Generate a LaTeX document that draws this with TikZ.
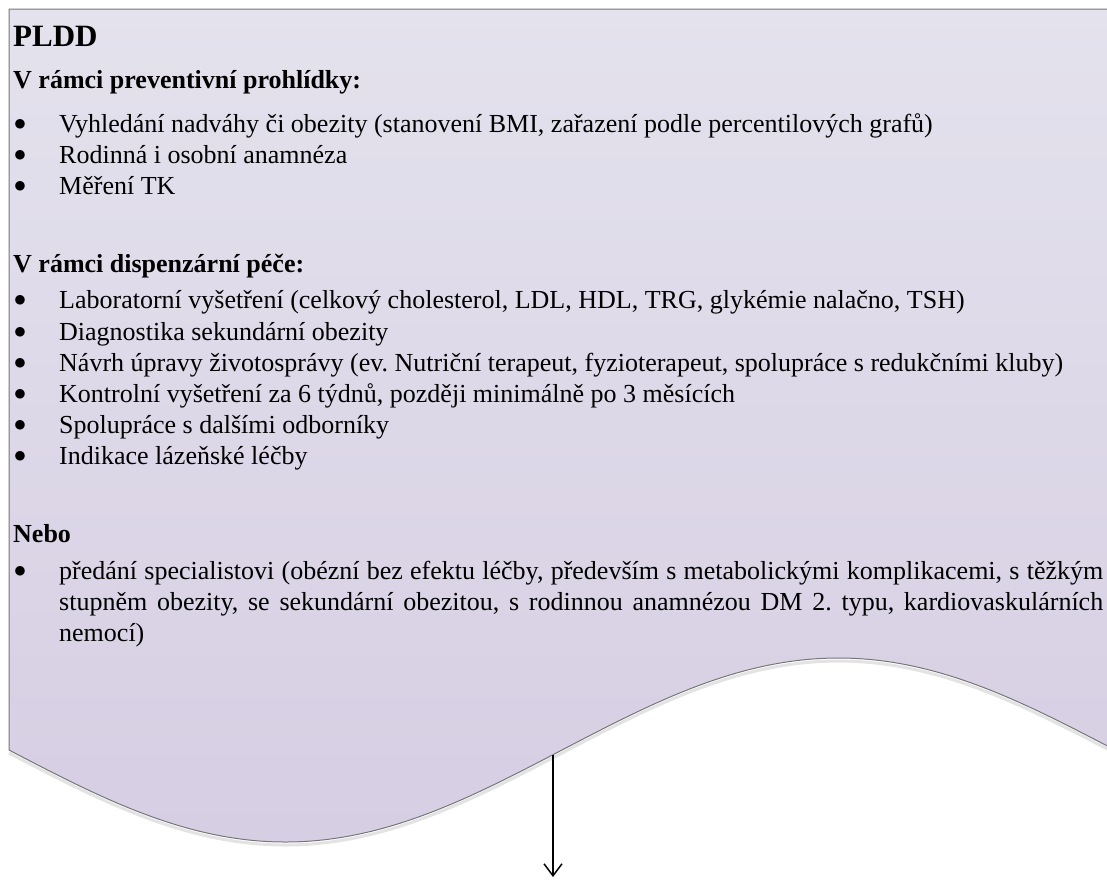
\documentclass[tikz,border=0pt]{standalone}
\usepackage{fontspec}
\setmainfont{Liberation Serif}
\newfontfamily\dotfont{DejaVu Sans}
\usetikzlibrary{arrows.meta}
\definecolor{filltop}{HTML}{E4E2ED}
\definecolor{fillbot}{HTML}{D6CEE3}
\definecolor{edgegray}{HTML}{767676}
\frenchspacing
\begin{document}
\begin{tikzpicture}[x=1pt,y=-1pt,
  body/.style={anchor=base west, inner sep=0pt, font=\fontsize{26}{30}\selectfont},
  headline/.style={anchor=base west, inner sep=0pt, font=\fontsize{26}{30}\selectfont\bfseries},
  titleline/.style={anchor=base west, inner sep=0pt, font=\fontsize{31}{36}\selectfont\bfseries},
  bul/.style={anchor=center, inner sep=0pt, font=\dotfont\fontsize{12.5}{14}\selectfont},
  conn/.style={line width=1.5pt, -{Straight Barb[length=12pt,width=18pt]}}]
\useasboundingbox (0,0) rectangle (1107,879);
\begin{scope}
  \clip (0,0) rectangle (1107,879);
  % shadow under the wavy edge
  \draw[black!11, line width=3pt] (9,753) sin (285.5,845) cos (562,753) sin (838.5,661) cos (1115,753);
  % document shape
  \path[top color=filltop, bottom color=fillbot, draw=edgegray, line width=1pt]
    (9,9) -- (9,750) sin (285.5,842) cos (562,750) sin (838.5,658) cos (1115,750) -- (1115,9) -- cycle;
\end{scope}

\node[titleline] (title) at (13,46) {PLDD};
\node[headline] (h1) at (13,88) {V rámci preventivní prohlídky:};
\foreach \y/\n/\t in {132/a1/{Vyhledání nadváhy či obezity (stanovení BMI, zařazení podle percentilových grafů)},
                     163/a2/{Rodinná i osobní anamnéza},
                     194/a3/{Měření TK}} {
  \node[bul] (\n b) at (20,\y-8) {●};
  \node[body] (\n) at (59,\y) {\t};
}
\node[headline] (h2) at (13,272) {V rámci dispenzární péče:};
\foreach \y/\n/\t in {308/c1/{Laboratorní vyšetření (celkový cholesterol, LDL, HDL, TRG, glykémie nalačno, TSH)},
                     340/c2/{Diagnostika sekundární obezity},
                     371/c3/{Návrh úpravy životosprávy (ev. Nutriční terapeut, fyzioterapeut, spolupráce s redukčními kluby)},
                     402/c4/{Kontrolní vyšetření za 6 týdnů, později minimálně po 3 měsících},
                     433/c5/{Spolupráce s dalšími odborníky},
                     464/c6/{Indikace lázeňské léčby}} {
  \node[bul] (\n b) at (20,\y-8) {●};
  \node[body] (\n) at (59,\y) {\t};
}
\node[headline] (h3) at (13,542) {Nebo};
\node[bul] (d1b) at (20,571) {●};
\node[body] (d1) at (59,579) {\makebox[1044pt][s]{předání specialistovi (obézní bez efektu léčby, především s metabolickými komplikacemi, s těžkým}};
\node[body] (d2) at (59,610) {\makebox[1044pt][s]{stupněm obezity, se sekundární obezitou, s rodinnou anamnézou DM 2. typu, kardiovaskulárních}};
\node[body] (d3) at (59,641) {nemocí)};

\coordinate (wavept) at (553,755);
\coordinate (arrowtip) at (553,877);
\draw[conn] (wavept) -- (arrowtip);
\end{tikzpicture}
\end{document}
